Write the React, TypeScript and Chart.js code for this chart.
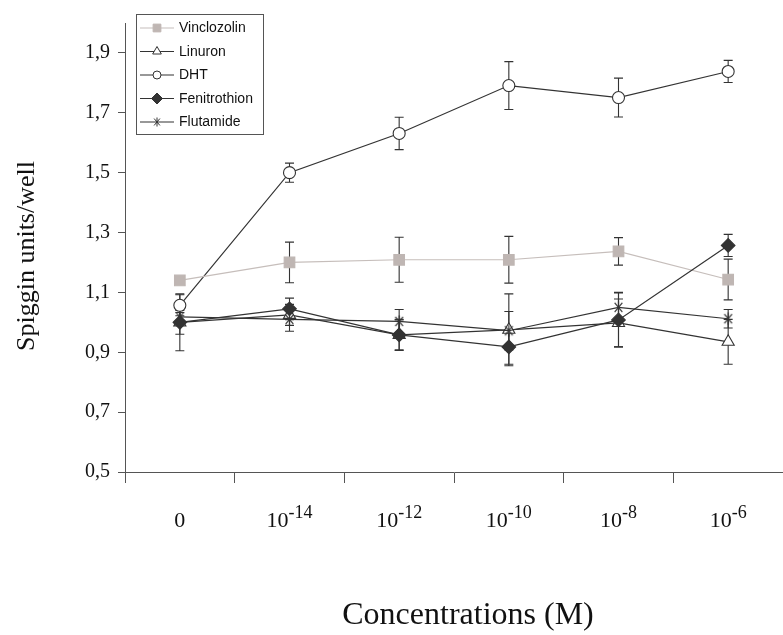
import React, { useEffect, useRef } from 'react';
import { Chart, registerables } from 'chart.js';
import { drawPoint } from 'chart.js/helpers';

Chart.register(...registerables);

// ---- data ----
const categoryBase = ['0', '10', '10', '10', '10', '10'];
const categoryExp = ['', '-14', '-12', '-10', '-8', '-6'];
const yTickValues = [0.5, 0.7, 0.9, 1.1, 1.3, 1.5, 1.7, 1.9];

const seriesNames = ['Vinclozolin', 'Linuron', 'DHT', 'Fenitrothion', 'Flutamide'];

const vinclozolin = [1.14, 1.2, 1.209, 1.209, 1.237, 1.143];
const vinclozolinErr = [0.012, 0.068, 0.075, 0.078, 0.046, 0.068];

const linuron = [1.0, 1.025, 0.958, 0.975, 0.998, 0.935];
const linuronErr = [0.04, 0.035, 0.05, 0.12, 0.08, 0.075];

const dht = [1.057, 1.5, 1.631, 1.791, 1.751, 1.838];
const dhtErr = [0.035, 0.032, 0.054, 0.08, 0.065, 0.037];

const fenitrothion = [1.0, 1.045, 0.958, 0.918, 1.008, 1.257];
const fenitrothionErr = [0.095, 0.036, 0.052, 0.058, 0.09, 0.037];

const flutamide = [1.018, 1.01, 1.003, 0.972, 1.05, 1.012];
const flutamideErr = [0.015, 0.04, 0.04, 0.064, 0.05, 0.031];

const DARK = '#333333';
const GRAY_FILL = '#bfb6b3';
const GRAY_LINE = '#c6bebb';
const AXIS = '#555555';

function makeStar(size: number, color: string, lw: number): HTMLCanvasElement {
  const c = document.createElement('canvas');
  c.width = size;
  c.height = size;
  const ctx = c.getContext('2d')!;
  ctx.strokeStyle = color;
  ctx.lineWidth = lw;
  const m = size / 2;
  const r = size / 2 - 0.5;
  ctx.beginPath();
  ctx.moveTo(m, m - r);
  ctx.lineTo(m, m + r);
  const a = (50 * Math.PI) / 180;
  const dx = Math.cos(a) * r;
  const dy = Math.sin(a) * r;
  ctx.moveTo(m - dx, m - dy);
  ctx.lineTo(m + dx, m + dy);
  ctx.moveTo(m - dx, m + dy);
  ctx.lineTo(m + dx, m - dy);
  ctx.stroke();
  return c;
}

export default function App() {
  const ref = useRef<HTMLCanvasElement | null>(null);

  useEffect(() => {
    const canvas = ref.current;
    if (!canvas) return;

    const star = makeStar(13, DARK, 1.2);
    const starSmall = makeStar(10, DARK, 1);

    const toPts = (arr: number[]) => arr.map((v, i) => ({ x: i, y: v }));

    const errors: number[][] = [vinclozolinErr, linuronErr, dhtErr, fenitrothionErr, flutamideErr];
    const values: number[][] = [vinclozolin, linuron, dht, fenitrothion, flutamide];

    const styles = [
      { pointStyle: 'rect', radius: 7.5, bg: GRAY_FILL, border: GRAY_FILL, line: GRAY_LINE, lr: 5.5 },
      { pointStyle: 'triangle', radius: 7, bg: '#ffffff', border: DARK, line: DARK, lr: 5 },
      { pointStyle: 'circle', radius: 6, bg: '#ffffff', border: DARK, line: DARK, lr: 4 },
      { pointStyle: 'rectRot', radius: 6.8, bg: DARK, border: DARK, line: DARK, lr: 5.5 },
      { pointStyle: star as any, radius: 6, bg: DARK, border: DARK, line: DARK, lr: 5 },
    ];
    const orders = [1, 4, 2, 0, 3];

    const datasets = seriesNames.map((name, i) => ({
      label: name,
      data: toPts(values[i]),
      borderColor: styles[i].line,
      borderWidth: 1.2,
      backgroundColor: styles[i].bg,
      pointStyle: styles[i].pointStyle as any,
      pointRadius: styles[i].radius,
      pointBackgroundColor: styles[i].bg,
      pointBorderColor: styles[i].border,
      pointBorderWidth: 1.1,
      tension: 0,
      fill: false,
      order: orders[i],
    }));

    const errorBars = {
      id: 'errorBars',
      beforeDatasetsDraw(chart: any) {
        const ctx = chart.ctx;
        const xs = chart.scales.x;
        const ys = chart.scales.y;
        ctx.save();
        ctx.strokeStyle = DARK;
        ctx.lineWidth = 1.1;
        values.forEach((vals, di) => {
          vals.forEach((v, j) => {
            const e = errors[di][j];
            const x = xs.getPixelForValue(j);
            const yt = ys.getPixelForValue(v + e);
            const yb = ys.getPixelForValue(v - e);
            ctx.beginPath();
            ctx.moveTo(x, yt);
            ctx.lineTo(x, yb);
            ctx.moveTo(x - 4.5, yt);
            ctx.lineTo(x + 4.5, yt);
            ctx.moveTo(x - 4.5, yb);
            ctx.lineTo(x + 4.5, yb);
            ctx.stroke();
          });
        });
        ctx.restore();
      },
    };

    const texts = {
      id: 'texts',
      afterDraw(chart: any) {
        const ctx = chart.ctx;
        const xs = chart.scales.x;
        const area = chart.chartArea;
        ctx.save();
        ctx.fillStyle = '#111111';
        // x tick labels with superscript exponents
        categoryBase.forEach((base, i) => {
          const exp = categoryExp[i];
          const cx = xs.getPixelForValue(i);
          ctx.font = '22px "Liberation Serif"';
          const wb = ctx.measureText(base).width;
          ctx.font = '18px "Liberation Serif"';
          const we = exp ? ctx.measureText(exp).width : 0;
          const start = cx - (wb + we) / 2;
          ctx.textAlign = 'left';
          ctx.textBaseline = 'alphabetic';
          ctx.font = '22px "Liberation Serif"';
          ctx.fillText(base, start, 527);
          if (exp) {
            ctx.font = '18px "Liberation Serif"';
            ctx.fillText(exp, start + wb, 518);
          }
        });
        // x title
        ctx.font = '32px "Liberation Serif"';
        ctx.textAlign = 'center';
        ctx.fillText('Concentrations (M)', (area.left + area.right) / 2 + 14, 624);
        // y title
        ctx.save();
        ctx.translate(34, 256);
        ctx.rotate(-Math.PI / 2);
        ctx.font = '26px "Liberation Serif"';
        ctx.textAlign = 'center';
        ctx.fillText('Spiggin units/well', 0, 0);
        ctx.restore();

        // legend
        const lx = 136.5, ly = 14.5, lw = 127, lh = 120;
        ctx.fillStyle = '#ffffff';
        ctx.fillRect(lx, ly, lw, lh);
        ctx.strokeStyle = AXIS;
        ctx.lineWidth = 1;
        ctx.strokeRect(lx, ly, lw, lh);
        seriesNames.forEach((name, i) => {
          const y = 28 + i * 23.5;
          const st = styles[i];
          ctx.strokeStyle = st.line;
          ctx.lineWidth = 1.1;
          ctx.beginPath();
          ctx.moveTo(140, y);
          ctx.lineTo(174, y);
          ctx.stroke();
          ctx.fillStyle = st.bg;
          ctx.strokeStyle = st.border;
          ctx.lineWidth = 1;
          drawPoint(ctx, {
            pointStyle: i === 4 ? (starSmall as any) : st.pointStyle,
            rotation: 0,
            radius: st.lr,
            borderWidth: 1,
          } as any, 157, y);
          ctx.fillStyle = '#111111';
          ctx.font = '14px "Liberation Sans"';
          ctx.textAlign = 'left';
          ctx.textBaseline = 'middle';
          ctx.fillText(name, 179, y + 0.5);
        });
        ctx.restore();
      },
    };

    const chart = new Chart(canvas, {
      type: 'line',
      data: { datasets: datasets as any },
      options: {
        responsive: false,
        animation: false,
        devicePixelRatio: 1,
        layout: { autoPadding: false, padding: { top: 23, left: 0, right: 0, bottom: 0 } },
        plugins: {
          legend: { display: false },
          tooltip: { enabled: false },
          title: { display: false },
        },
        scales: {
          x: {
            type: 'linear',
            min: -0.5,
            max: 5.5,
            afterBuildTicks: (scale: any) => {
              scale.ticks = [-0.5, 0.5, 1.5, 2.5, 3.5, 4.5].map((v) => ({ value: v }));
            },
            afterFit: (scale: any) => {
              scale.height = 163;
            },
            ticks: {
              callback: () => '',
              autoSkip: false,
              maxRotation: 0,
              padding: 0,
            },
            grid: {
              display: true,
              drawOnChartArea: false,
              drawTicks: true,
              tickLength: 11,
              tickColor: AXIS,
              tickWidth: 1,
            },
            border: { display: true, color: AXIS, width: 1 },
          },
          y: {
            type: 'linear',
            min: 0.5,
            max: 2.0,
            afterBuildTicks: (scale: any) => {
              scale.ticks = yTickValues.map((v) => ({ value: v }));
            },
            afterFit: (scale: any) => {
              scale.width = 125;
            },
            ticks: {
              callback: (v: any) => Number(v).toFixed(1).replace('.', ','),
              font: { family: 'Liberation Serif', size: 20 },
              color: '#111111',
              padding: 8,
              autoSkip: false,
            },
            grid: {
              display: true,
              drawOnChartArea: false,
              drawTicks: true,
              tickLength: 7,
              tickColor: AXIS,
              tickWidth: 1,
            },
            border: { display: true, color: AXIS, width: 1 },
          },
        },
      },
      plugins: [errorBars, texts],
    });

    return () => chart.destroy();
  }, []);

  return (
    <div style={{ position: 'absolute', left: 0, top: 0, width: 783, height: 635, background: '#ffffff' }}>
      <canvas ref={ref} width={783} height={635} />
    </div>
  );
}
